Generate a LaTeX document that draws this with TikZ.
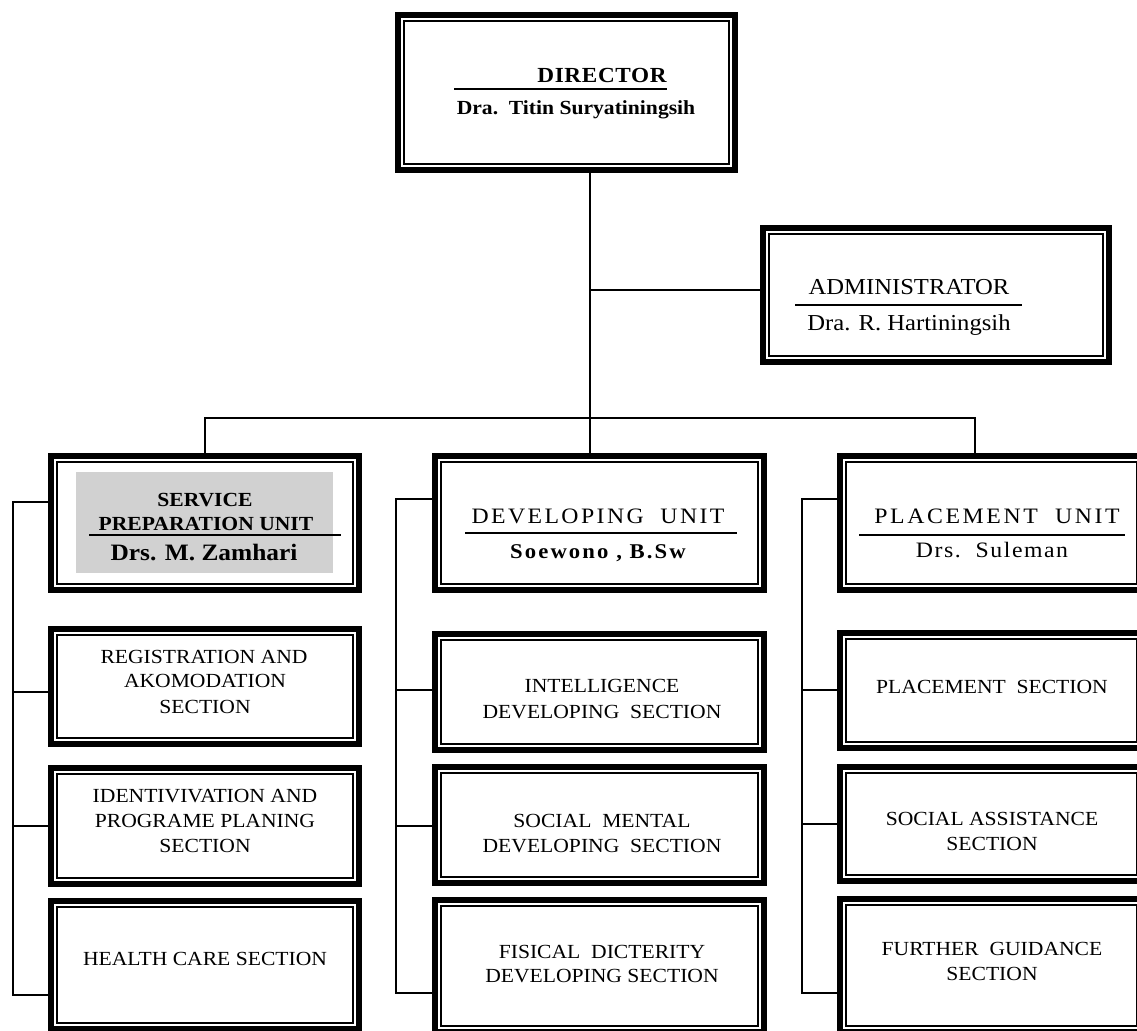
\documentclass[tikz,border=0pt]{standalone}
\usepackage{fontspec}
\setmainfont{Liberation Serif}[FakeStretch=1.08]
\begin{document}
\begin{tikzpicture}[x=1pt,y=-1pt,
  obox/.style={draw, line width=6pt, rectangle, inner sep=0pt,
    path picture={\draw[line width=2pt]
      ([shift={(6pt,-6pt)}]path picture bounding box.north west) rectangle
      ([shift={(-6pt,6pt)}]path picture bounding box.south east);}},
  conn/.style={line width=1.5pt},
  rule/.style={line width=1.5pt},
  txt/.style={anchor=base, inner sep=0pt},
  sec/.style={txt, font=\fontsize{20}{24}\selectfont}]
\useasboundingbox (0,0) rectangle (1137,1030);
\clip (0,0) rectangle (1137,1030);

% ---------- boxes ----------
\node[obox, minimum width=337, minimum height=155] (dir) at (566.5,92.5) {};
\node[obox, minimum width=346, minimum height=134] (adm) at (936,295) {};
\node[obox, minimum width=308, minimum height=134] (svc) at (205,523) {};
\node[obox, minimum width=329, minimum height=134] (dev) at (599.5,523) {};
\node[obox, minimum width=303, minimum height=134] (plc) at (991.5,523) {};

\node[obox, minimum width=308, minimum height=115] (L1) at (205,686.5) {};
\node[obox, minimum width=308, minimum height=116] (L2) at (205,826) {};
\node[obox, minimum width=308, minimum height=128] (L3) at (205,965) {};

\node[obox, minimum width=329, minimum height=116] (M1) at (599.5,692) {};
\node[obox, minimum width=329, minimum height=116] (M2) at (599.5,825) {};
\node[obox, minimum width=329, minimum height=132] (M3) at (599.5,966) {};

\node[obox, minimum width=303, minimum height=115] (R1) at (991.5,690.5) {};
\node[obox, minimum width=303, minimum height=114] (R2) at (991.5,824) {};
\node[obox, minimum width=303, minimum height=133] (R3) at (991.5,965.5) {};

% shading of the service unit
\fill[gray!36] (76,472) rectangle (333,573);

% ---------- texts ----------
\node[txt, font=\bfseries\fontsize{21.5}{24}\selectfont\addfontfeature{LetterSpace=3}] (tdir) at (602,83) {DIRECTOR};
\draw[rule] (454,89) -- (667,89);
\node[txt, font=\bfseries\fontsize{20}{22}\selectfont] (tdirn) at (576,115) {Dra.\ \ Titin Suryatiningsih};

\node[txt, font=\fontsize{22.8}{25}\selectfont] (tadm) at (909,294) {ADMINISTRATOR};
\draw[rule] (795,305) -- (1022,305);
\node[txt, font=\fontsize{22.8}{25}\selectfont] (tadmn) at (909,330) {Dra. R. Hartiningsih};

\node[txt, font=\bfseries\fontsize{20}{22}\selectfont] (tsvc1) at (205,506) {SERVICE};
\node[txt, font=\bfseries\fontsize{20}{22}\selectfont] (tsvc2) at (206,530) {PREPARATION UNIT};
\draw[rule] (89,535) -- (341,535);
\node[txt, font=\bfseries\fontsize{23.5}{26}\selectfont] (tsvcn) at (204,560) {Drs. M. Zamhari};

\node[txt, font=\fontsize{22}{24}\selectfont\addfontfeature{LetterSpace=11}] (tdev) at (598,523) {DEVELOPING\ \ UNIT};
\draw[rule] (465,533) -- (737,533);
\node[txt, font=\bfseries\fontsize{21}{24}\selectfont\addfontfeature{LetterSpace=10}] (tdevn) at (598,558) {Soewono , B.Sw};

\node[txt, font=\fontsize{22}{24}\selectfont\addfontfeature{LetterSpace=12}] (tplc) at (997,523) {PLACEMENT\ \ UNIT};
\draw[rule] (859,535) -- (1125,535);
\node[txt, font=\fontsize{22}{24}\selectfont\addfontfeature{LetterSpace=7}] (tplcn) at (992,557) {Drs.\ \ Suleman};

\node[sec] (tl1a) at (204,663) {REGISTRATION AND};
\node[sec] (tl1b) at (205,687) {AKOMODATION};
\node[sec] (tl1c) at (205,713) {SECTION};
\node[sec] (tl2a) at (205,802) {IDENTIVIVATION AND};
\node[sec] (tl2b) at (205,827) {PROGRAME PLANING};
\node[sec] (tl2c) at (205,852) {SECTION};
\node[sec] (tl3a) at (205,965) {HEALTH CARE SECTION};

\node[sec] (tm1a) at (602,692) {INTELLIGENCE};
\node[sec] (tm1b) at (602,718) {DEVELOPING\ \ SECTION};
\node[sec] (tm2a) at (602,827) {SOCIAL\ \ MENTAL};
\node[sec] (tm2b) at (602,852) {DEVELOPING\ \ SECTION};
\node[sec] (tm3a) at (602,958) {FISICAL\ \ DICTERITY};
\node[sec] (tm3b) at (602,982) {DEVELOPING SECTION};

\node[sec] (tr1a) at (992,693) {PLACEMENT\ \ SECTION};
\node[sec] (tr2a) at (992,825) {SOCIAL ASSISTANCE};
\node[sec] (tr2b) at (992,850) {SECTION};
\node[sec] (tr3a) at (992,955) {FURTHER\ \ GUIDANCE};
\node[sec] (tr3b) at (992,980) {SECTION};

% ---------- connectors ----------
\coordinate (trunk) at (590,418);
\coordinate (admj) at (590,290);
\coordinate (busL) at (205,418);
\coordinate (busR) at (975,418);
\draw[conn] (dir.south -| trunk) -- (trunk);
\draw[conn] (admj) -- (admj -| adm.west);
\draw[conn] (busL |- svc.north) -- (busL) -- (busR) -- (busR |- plc.north);
\draw[conn] (trunk) -- (trunk |- dev.north);

% left bracket
\coordinate (spL) at (13,502);
\draw[conn] (svc.west |- spL) -- (spL) -- (spL |- 0,995) -- (L3.west |- 0,995);
\draw[conn] (spL |- 0,692) -- (L1.west |- 0,692);
\draw[conn] (spL |- 0,826) -- (L2.west |- 0,826);
% middle bracket
\coordinate (spM) at (396,499);
\draw[conn] (dev.west |- spM) -- (spM) -- (spM |- 0,993) -- (M3.west |- 0,993);
\draw[conn] (spM |- 0,690) -- (M1.west |- 0,690);
\draw[conn] (spM |- 0,826) -- (M2.west |- 0,826);
% right bracket
\coordinate (spR) at (802,499);
\draw[conn] (plc.west |- spR) -- (spR) -- (spR |- 0,993) -- (R3.west |- 0,993);
\draw[conn] (spR |- 0,690) -- (R1.west |- 0,690);
\draw[conn] (spR |- 0,824) -- (R2.west |- 0,824);
\end{tikzpicture}
\end{document}
